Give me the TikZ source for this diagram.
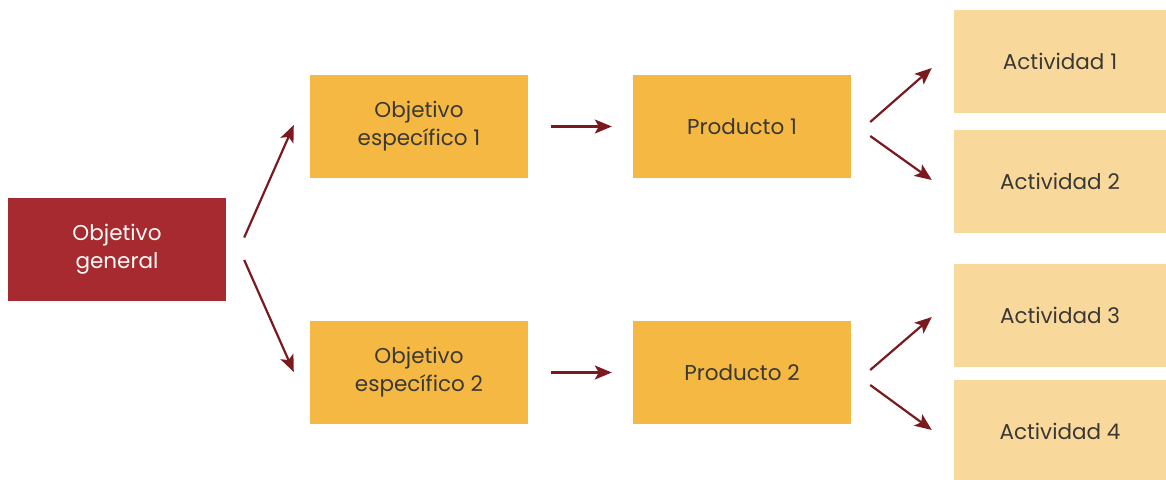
\documentclass[tikz,border=0pt]{standalone}
\usepackage{fontspec}
\setmainfont{Poppins}
\usetikzlibrary{arrows.meta}
\definecolor{dred}{HTML}{A82A31}
\definecolor{gold}{HTML}{F5B843}
\definecolor{pale}{HTML}{F9D99B}
\definecolor{arr}{HTML}{7A1A1F}
\definecolor{txt}{HTML}{3A3835}
\tikzset{
  box/.style={rectangle, minimum width=218pt, minimum height=103pt, inner sep=0pt, align=center, font=\fontsize{21.5}{28}\selectfont, text=txt},
  gen/.style={box, fill=dred, text=white!95!gold},
  spec/.style={box, fill=gold},
  act/.style={box, fill=pale, minimum width=212pt},
  link/.style={draw=arr, line width=2.2pt, -{Stealth[length=17pt,width=14pt,inset=4pt]}}
}
\begin{document}
\begin{tikzpicture}[x=1pt,y=-1pt]
\useasboundingbox (0,0) rectangle (1166,479);
\node[gen] (og) at (117,249.5) {Objetivo\\general};
\node[spec] (oe1) at (419,126.5) {Objetivo\\específico 1};
\node[spec] (oe2) at (419,372.5) {Objetivo\\específico 2};
\node[spec] (p1) at (742,126.5) {Producto 1};
\node[spec] (p2) at (742,372.5) {Producto 2};
\node[act] (a1) at (1060,61.5) {Actividad 1};
\node[act] (a2) at (1060,181.5) {Actividad 2};
\node[act] (a3) at (1060,315) {Actividad 3};
\node[act] (a4) at (1060,431) {Actividad 4};
\draw[link] ([xshift=18pt,yshift=12pt]og.east) -- ([xshift=-16pt,yshift=1.5pt]oe1.west);
\draw[link] ([xshift=18pt,yshift=-10.5pt]og.east) -- ([xshift=-16pt,yshift=0.5pt]oe2.west);
\draw[link] ([xshift=23pt]oe1.east) -- ([xshift=-21pt]p1.west);
\draw[link] ([xshift=23pt]oe2.east) -- ([xshift=-21pt]p2.west);
\draw[link] ([xshift=19pt,yshift=4.5pt]p1.east) -- ([xshift=-22pt,yshift=-6.5pt]a1.west);
\draw[link] ([xshift=19pt,yshift=-9.5pt]p1.east) -- ([xshift=-22pt,yshift=1.5pt]a2.west);
\draw[link] ([xshift=19pt,yshift=2.5pt]p2.east) -- ([xshift=-22pt,yshift=-2pt]a3.west);
\draw[link] ([xshift=19pt,yshift=-12.5pt]p2.east) -- ([xshift=-22pt,yshift=1pt]a4.west);
\end{tikzpicture}
\end{document}
